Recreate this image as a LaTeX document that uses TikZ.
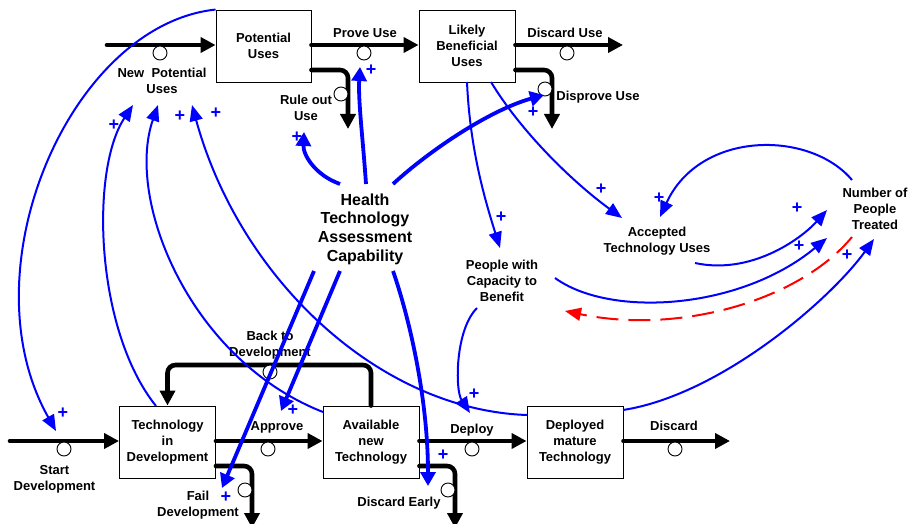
\documentclass[tikz,border=0pt]{standalone}
\usepackage{fontspec}
\setmainfont{Liberation Sans}
\usetikzlibrary{arrows.meta}
\begin{document}
\begin{tikzpicture}[x=1pt,y=-1pt,
  lbl/.style={font=\fontsize{13}{16}\selectfont\bfseries, align=center, inner sep=0pt},
  biglbl/.style={font=\fontsize{16}{18.7}\selectfont\bfseries, align=center, inner sep=0pt},
  stock/.style={draw, line width=0.9pt, fill=white, minimum width=96pt, minimum height=72pt,
    inner sep=0pt, align=center, font=\fontsize{13}{16}\selectfont\bfseries},
  pipe/.style={line width=4.6pt, line cap=round, rounded corners=8pt,
    -{Triangle[length=15pt,width=15pt]}},
  valve/.style={circle, draw, fill=white, line width=0.9pt, minimum size=14pt, inner sep=0pt},
  link/.style={draw=blue, line width=2pt, -{Triangle[length=16pt,width=13pt]}},
  hlink/.style={draw=blue, line width=3.8pt, -{Triangle[length=14pt,width=15pt]}},
  neglink/.style={draw=red, line width=2pt, dash pattern=on 22pt off 10pt,
    -{Triangle[length=16pt,width=13pt]}},
  pol/.style={text=blue, font=\fontsize{18}{18}\selectfont\bfseries, inner sep=0pt},
]
\useasboundingbox (0,0) rectangle (909,524);

% ---------- stocks ----------
\node[stock, minimum width=95pt] (PU) at (263.5,46) {Potential\\Uses};
\node[stock] (LB) at (467,46) {Likely\\Beneficial\\Uses};
\node[stock] (TD) at (167.5,442) {Technology\\in\\Development};
\node[stock] (AN) at (371,442) {Available\\new\\Technology};
\node[stock] (DM) at (575,442) {Deployed\\mature\\Technology};

% ---------- pipe rows and free ends ----------
\coordinate (rowA) at (0,45);
\coordinate (rowB) at (0,70);
\coordinate (rowC) at (0,441);
\coordinate (rowD) at (0,466);
\coordinate (npuSrc) at (107,45);
\coordinate (ruleEnd) at (348,129);
\coordinate (discUseEnd) at (623,45);
\coordinate (disprEnd) at (552,129);
\coordinate (startSrc) at (10,441);
\coordinate (failEnd) at (252,528);
\coordinate (backMid) at (270,365);
\coordinate (earlyEnd) at (455,528);
\coordinate (discEnd) at (730,441);

% ---------- flows ----------
\draw[pipe] (npuSrc) -- (PU.west |- npuSrc);
\draw[pipe] (PU.east |- rowA) -- (LB.west |- rowA);
\draw[pipe] (PU.east |- rowB) -| (ruleEnd);
\draw[pipe] (LB.east |- rowA) -- (discUseEnd);
\draw[pipe] (LB.east |- rowB) -| (disprEnd);
\draw[pipe] (startSrc) -- (TD.west |- startSrc);
\draw[pipe] (TD.east |- rowC) -- (AN.west |- rowC);
\draw[pipe] (TD.east |- rowD) -| (failEnd);
\draw[pipe] (AN.north) |- (backMid) -| (TD.north);
\draw[pipe] (AN.east |- rowC) -- (DM.west |- rowC);
\draw[pipe] (AN.east |- rowD) -| (earlyEnd);
\draw[pipe] (DM.east |- rowC) -- (discEnd);

% ---------- valves ----------
\node[valve] (vNPU) at (160,53) {};
\node[valve] (vProve) at (364,53) {};
\node[valve] (vRule) at (341,94) {};
\node[valve] (vDiscU) at (567,53) {};
\node[valve] (vDispr) at (545,89) {};
\node[valve] (vStart) at (64,449) {};
\node[valve] (vAppr) at (268,449) {};
\node[valve] (vFail) at (245,490) {};
\node[valve] (vBack) at (270,372) {};
\node[valve] (vDeploy) at (472,449) {};
\node[valve] (vEarly) at (448,490) {};
\node[valve] (vDisc) at (675,449) {};

% ---------- flow names ----------
\node[lbl] (tNPU) at (162,81) {New\ \ Potential\\Uses};
\node[lbl] (tProve) at (365,33) {Prove Use};
\node[lbl] (tRule) at (306,108) {Rule out\\Use};
\node[lbl] (tDiscU) at (565,33) {Discard Use};
\node[lbl] (tDispr) at (598,97) {Disprove Use};
\node[lbl] (tStart) at (54.5,479) {Start\\Development};
\node[lbl] (tAppr) at (277,427) {Approve};
\node[lbl] (tFail) at (198,505) {Fail\\Development};
\node[lbl] (tBack) at (270,345) {Back to\\Development};
\node[lbl] (tDeploy) at (472,430) {Deploy};
\node[lbl] (tEarly) at (399,503) {Discard Early};
\node[lbl] (tDisc) at (674,426) {Discard};

% ---------- auxiliaries ----------
\node[biglbl] (hta) at (365,229) {Health\\Technology\\Assessment\\Capability};
\node[lbl] (acc) at (657,241) {Accepted\\Technology Uses};
\node[lbl] (npt) at (875,209) {Number of\\People\\Treated};
\node[lbl] (ppl) at (502,281) {People with\\Capacity to\\Benefit};

% ---------- link ends ----------
\coordinate (startTip) at (56,431);
\coordinate (tdTop) at (156,406);
\coordinate (npuTipA) at (133,105);
\coordinate (anLeft) at (323,412);
\coordinate (npuTipB) at (158,105);
\coordinate (dmLeft) at (527,415);
\coordinate (npuTipC) at (192,105);
\coordinate (htaA) at (340,184);
\coordinate (ruleTip) at (304,132);
\coordinate (htaB) at (366,184);
\coordinate (proveTip) at (360,67);
\coordinate (htaC) at (393,184);
\coordinate (disprTip) at (544,95);
\coordinate (htaD) at (314,271);
\coordinate (failTip) at (222,488);
\coordinate (htaE) at (340,271);
\coordinate (apprTip) at (281,411);
\coordinate (htaF) at (393,271);
\coordinate (earlyTip) at (428,486);
\coordinate (lbBotA) at (467,82);
\coordinate (pplTip) at (500,248);
\coordinate (lbBotB) at (491,82);
\coordinate (accTipA) at (622,218);
\coordinate (nptOutA) at (852,180);
\coordinate (accTipB) at (660,217);
\coordinate (accOut) at (695,263);
\coordinate (nptTipA) at (827,210);
\coordinate (pplOut) at (555,278);
\coordinate (nptTipB) at (827,238);
\coordinate (dmRight) at (623,410);
\coordinate (nptTipC) at (874,239);
\coordinate (nptOutB) at (852,237);
\coordinate (pplBack) at (565,311);
\coordinate (pplBot) at (477,308);
\coordinate (deployTip) at (470,413);

% ---------- causal links ----------
\draw[link] (PU.north west) .. controls (70,25) and (-35,270) .. (startTip);
\draw[link] (tdTop) .. controls (95,330) and (90,170) .. (npuTipA);
\draw[link] (anLeft) .. controls (190,360) and (125,200) .. (npuTipB);
\draw[link] (dmLeft) .. controls (380,410) and (240,280) .. (npuTipC);
\draw[link] (lbBotA) .. controls (470,150) and (485,200) .. (pplTip);
\draw[link] (lbBotB) .. controls (520,130) and (570,180) .. (accTipA);
\draw[link] (nptOutA) .. controls (810,130) and (700,130) .. (accTipB);
\draw[link] (accOut) .. controls (750,275) and (800,240) .. (nptTipA);
\draw[link] (pplOut) .. controls (610,318) and (740,310) .. (nptTipB);
\draw[link] (dmRight) .. controls (720,395) and (830,300) .. (nptTipC);
\draw[link] (pplBot) .. controls (455,330) and (455,390) .. (deployTip);
\draw[neglink] (nptOutB) .. controls (800,300) and (680,335) .. (pplBack);

\draw[hlink] (htaA) .. controls (315,175) and (303,155) .. (ruleTip);
\draw[hlink] (htaB) .. controls (363,140) and (358,100) .. (proveTip);
\draw[hlink] (htaC) .. controls (430,150) and (490,110) .. (disprTip);
\draw[hlink] (htaD) -- (failTip);
\draw[hlink] (htaE) -- (apprTip);
\draw[hlink] (htaF) .. controls (410,320) and (428,400) .. (earlyTip);

% ---------- polarities ----------
\node[pol] (p1) at (63,413) {+};
\node[pol] (p2) at (114,125) {+};
\node[pol] (p3) at (180,116) {+};
\node[pol] (p4) at (216,113) {+};
\node[pol] (p5) at (297,137) {+};
\node[pol] (p6) at (371,70) {+};
\node[pol] (p7) at (533,112) {+};
\node[pol] (p8) at (501,217) {+};
\node[pol] (p9) at (601,189) {+};
\node[pol] (p10) at (659,198) {+};
\node[pol] (p11) at (797,208) {+};
\node[pol] (p12) at (799,246) {+};
\node[pol] (p13) at (847,255) {+};
\node[pol] (p14) at (474,394) {+};
\node[pol] (p15) at (226,497) {+};
\node[pol] (p16) at (293,410) {+};
\node[pol] (p17) at (443,455) {+};
\end{tikzpicture}
\end{document}
